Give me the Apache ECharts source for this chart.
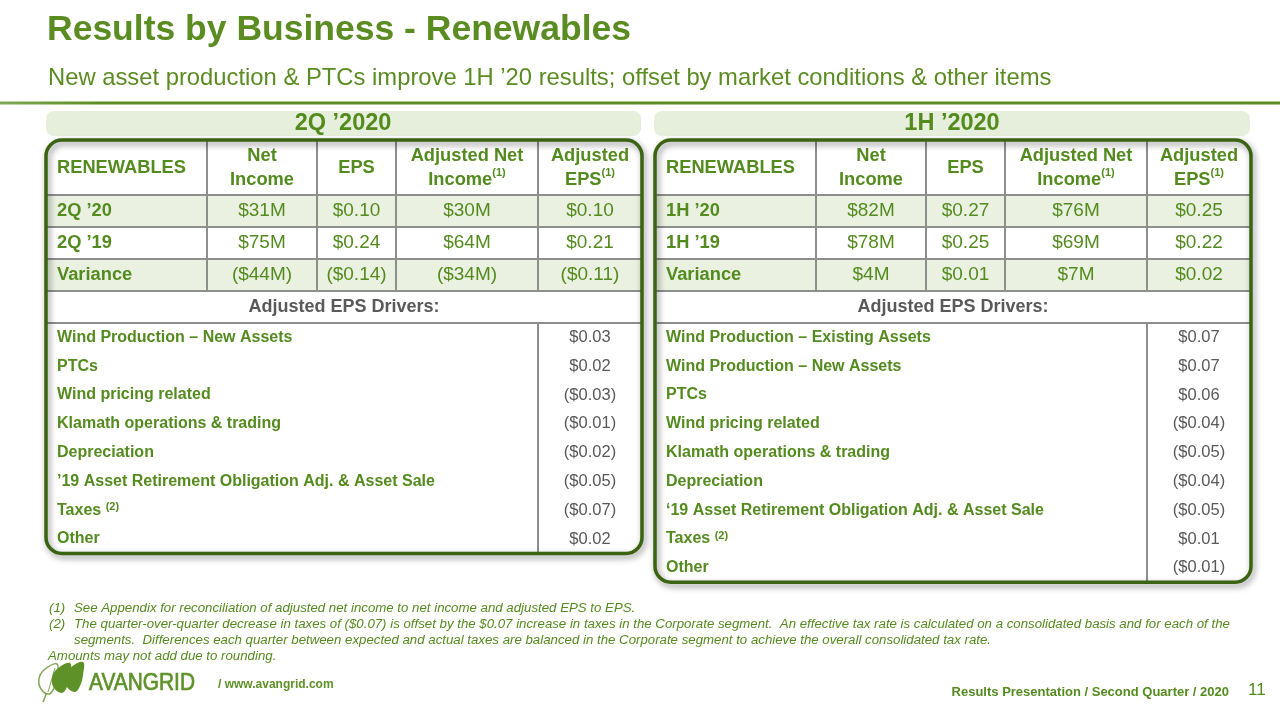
<!DOCTYPE html>
<html><head><meta charset="utf-8">
<script src="https://cdn.jsdelivr.net/npm/echarts@6/dist/echarts.min.js"></script>
<style>html,body{margin:0;padding:0;background:#fff}#chart{width:1280px;height:720px}</style>
</head><body><div id="chart"></div>
<script>
// ---------- DATA ----------
const columnHeaders = ['RENEWABLES', 'Net\nIncome', 'EPS', 'Adjusted Net\nIncome{sup|(1)}', 'Adjusted\nEPS{sup|(1)}'];

const quarterTitle = '2Q ’2020';
const quarterRowLabels = ['2Q ’20', '2Q ’19', 'Variance'];
const quarterNetIncome = [31, 75, -44];
const quarterEps = [0.10, 0.24, -0.14];
const quarterAdjNetIncome = [30, 64, -34];
const quarterAdjEps = [0.10, 0.21, -0.11];
const quarterDrivers = ['Wind Production – New Assets', 'PTCs', 'Wind pricing related', 'Klamath operations & trading', 'Depreciation', '’19 Asset Retirement Obligation Adj. & Asset Sale', 'Taxes {sup|(2)}', 'Other'];
const quarterDriverEps = [0.03, 0.02, -0.03, -0.01, -0.02, -0.05, -0.07, 0.02];

const halfTitle = '1H ’2020';
const halfRowLabels = ['1H ’20', '1H ’19', 'Variance'];
const halfNetIncome = [82, 78, 4];
const halfEps = [0.27, 0.25, 0.01];
const halfAdjNetIncome = [76, 69, 7];
const halfAdjEps = [0.25, 0.22, 0.02];
const halfDrivers = ['Wind Production – Existing Assets', 'Wind Production – New Assets', 'PTCs', 'Wind pricing related', 'Klamath operations & trading', 'Depreciation', '‘19 Asset Retirement Obligation Adj. & Asset Sale', 'Taxes {sup|(2)}', 'Other'];
const halfDriverEps = [0.07, 0.07, 0.06, -0.04, -0.05, -0.04, -0.05, 0.01, -0.01];

const driversHeading = 'Adjusted EPS Drivers:';
const footnotes = [
  ['(1)', 'See Appendix for reconciliation of adjusted net income to net income and adjusted EPS to EPS.'],
  ['(2)', 'The quarter-over-quarter decrease in taxes of ($0.07) is offset by the $0.07 increase in taxes in the Corporate segment.  An effective tax rate is calculated on a consolidated basis and for each of the'],
  ['', 'segments.  Differences each quarter between expected and actual taxes are balanced in the Corporate segment to achieve the overall consolidated tax rate.']
];
const roundingNote = 'Amounts may not add due to rounding.';

// ---------- STYLE / LAYOUT ----------
const FONT = '"Liberation Sans", Arial, sans-serif';
const GREEN = '#548B1F';
const TITLE_GREEN = '#5A8C22';
const DARK = '#3A6312';
const GRAY = '#595959';
const LINE = '#8E8E8E';
const TINT = '#EAF1E1';
const LOGO = '#5E9128';
const TABLE_W = 596, HEADER_H = 55, ROW_H = 32, DRIVER_H = 28.8;
const COL_EDGES = [0, 161, 271, 350, 492, 596];
const PAD = 11;

function money(v) { return v < 0 ? '($' + (-v) + 'M)' : '$' + v + 'M'; }
function eps(v) { return v < 0 ? '($' + (-v).toFixed(2) + ')' : '$' + v.toFixed(2); }

function buildTable(idx, left, spec) {
  const cells = [];
  const H = HEADER_H + 4 * ROW_H + spec.drivers.length * DRIVER_H;
  const dataTop = i => HEADER_H + ROW_H * i;
  const drvHeadTop = HEADER_H + ROW_H * 3;
  const drvTop = drvHeadTop + ROW_H;
  [0, 2].forEach(i => cells.push({ kind: 'fill', b: [0, dataTop(i), TABLE_W, dataTop(i) + ROW_H], color: TINT }));
  [HEADER_H, dataTop(1), dataTop(2), drvHeadTop, drvTop].forEach(y => cells.push({ kind: 'line', b: [0, y, TABLE_W, y] }));
  for (let c = 1; c < COL_EDGES.length - 1; c++) cells.push({ kind: 'line', b: [COL_EDGES[c], 0, COL_EDGES[c], drvHeadTop] });
  cells.push({ kind: 'line', b: [COL_EDGES[4], drvTop, COL_EDGES[4], H] });
  columnHeaders.forEach((t, c) => cells.push({ kind: 'text', b: [COL_EDGES[c], 0, COL_EDGES[c + 1], HEADER_H], text: t, align: c === 0 ? 'left' : 'center', bold: true, size: 18.3, lh: 24, color: GREEN }));
  const cols = [spec.netIncome.map(money), spec.eps.map(eps), spec.adjNetIncome.map(money), spec.adjEps.map(eps)];
  spec.rowLabels.forEach((lab, i) => {
    cells.push({ kind: 'text', b: [0, dataTop(i), COL_EDGES[1], dataTop(i) + ROW_H], text: lab, align: 'left', bold: true, size: 18.3, color: GREEN });
    cols.forEach((arr, c) => cells.push({ kind: 'text', b: [COL_EDGES[c + 1], dataTop(i), COL_EDGES[c + 2], dataTop(i) + ROW_H], text: arr[i], align: 'center', bold: false, size: 19, color: GREEN }));
  });
  cells.push({ kind: 'text', b: [0, drvHeadTop, TABLE_W, drvTop], text: driversHeading, align: 'center', bold: true, size: 18, color: GRAY });
  spec.drivers.forEach((d, j) => {
    const y0 = drvTop + DRIVER_H * j, y1 = y0 + DRIVER_H;
    cells.push({ kind: 'text', b: [0, y0, COL_EDGES[4], y1], text: d, align: 'left', bold: true, size: 16, color: GREEN });
    cells.push({ kind: 'text', b: [COL_EDGES[4], y0, TABLE_W, y1], text: eps(spec.driverEps[j]), align: 'center', bold: false, size: 16.5, color: GRAY });
  });
  cells.push({ kind: 'frame', b: [0, 0, TABLE_W, H] });

  const renderItem = function (params, api) {
    const c = cells[params.dataIndex];
    const p0 = api.coord([api.value(0), api.value(1)]);
    const p1 = api.coord([api.value(2), api.value(3)]);
    if (c.kind === 'fill') {
      return { type: 'rect', shape: { x: p0[0], y: p0[1], width: p1[0] - p0[0], height: p1[1] - p0[1] }, style: { fill: c.color } };
    }
    if (c.kind === 'line') {
      return { type: 'line', shape: { x1: p0[0], y1: p0[1], x2: p1[0], y2: p1[1] }, style: { stroke: LINE, lineWidth: 2 } };
    }
    if (c.kind === 'frame') {
      return { type: 'rect', shape: { x: p0[0], y: p0[1], width: p1[0] - p0[0], height: p1[1] - p0[1], r: 16 },
        style: { fill: 'none', stroke: DARK, lineWidth: 3.5, shadowBlur: 6, shadowColor: 'rgba(0,0,0,0.45)', shadowOffsetX: 2, shadowOffsetY: 3 } };
    }
    const x = c.align === 'left' ? p0[0] + PAD : (p0[0] + p1[0]) / 2;
    const y = (p0[1] + p1[1]) / 2;
    return { type: 'text', style: {
      text: c.text, x: x, y: y, align: c.align, verticalAlign: 'middle',
      fill: c.color, fontSize: c.size, fontWeight: c.bold ? 'bold' : 'normal', fontFamily: FONT, lineHeight: c.lh || (c.size + 2),
      rich: { sup: { fontSize: 11, fontWeight: 'bold', fontFamily: FONT, fill: c.color, verticalAlign: 'top', lineHeight: 16 } }
    } };
  };

  return {
    grid: { left: left, top: 140, width: TABLE_W, height: H, show: false },
    xAxis: { type: 'value', gridIndex: idx, min: 0, max: TABLE_W, show: false },
    yAxis: { type: 'value', gridIndex: idx, min: 0, max: H, inverse: true, show: false },
    series: { type: 'custom', coordinateSystem: 'cartesian2d', xAxisIndex: idx, yAxisIndex: idx, silent: true, clip: false,
      encode: { x: [0, 2], y: [1, 3] }, data: cells.map(c => c.b), renderItem: renderItem }
  };
}

const tQ = buildTable(0, 46, { rowLabels: quarterRowLabels, netIncome: quarterNetIncome, eps: quarterEps, adjNetIncome: quarterAdjNetIncome, adjEps: quarterAdjEps, drivers: quarterDrivers, driverEps: quarterDriverEps });
const tH = buildTable(1, 655, { rowLabels: halfRowLabels, netIncome: halfNetIncome, eps: halfEps, adjNetIncome: halfAdjNetIncome, adjEps: halfAdjEps, drivers: halfDrivers, driverEps: halfDriverEps });

function txt(x, y, text, size, opts) {
  opts = opts || {};
  const style = {
    text: text, fill: opts.color || GREEN, fontSize: size, fontFamily: FONT,
    fontWeight: opts.bold ? 'bold' : 'normal', fontStyle: opts.italic ? 'italic' : 'normal',
    align: opts.align || 'left', verticalAlign: 'middle' };
  if (opts.stroke) { style.stroke = opts.stroke; style.lineWidth = opts.strokeWidth; }
  return { type: 'text', x: x, y: y, scaleX: opts.scaleX || 1, silent: true, style: style };
}

const leafPts = [[0, 0], [-8, -5], [-10, -15], [-5, -24], [8, -30], [8, -17], [5, -6]];
function leaf(x, y, style) {
  return { type: 'polygon', silent: true, x: x, y: y, shape: { points: leafPts, smooth: 0.4 }, style: style };
}
const graphics = [
  txt(47, 30, 'Results by Business - Renewables', 35.5, { bold: true, color: TITLE_GREEN }),
  txt(48, 78, 'New asset production & PTCs improve 1H ’20 results; offset by market conditions & other items', 23.8, { color: TITLE_GREEN }),
  { type: 'rect', silent: true, shape: { x: 0, y: 101.5, width: 1280, height: 3 },
    style: { fill: new echarts.graphic.LinearGradient(0, 0, 1, 0, [{ offset: 0, color: '#7FAA55' }, { offset: 0.08, color: '#5A8C22' }, { offset: 1, color: '#5A8C22' }]) } },
  { type: 'rect', silent: true, shape: { x: 46, y: 111, width: 595, height: 25, r: 8 }, style: { fill: '#E6EEDC' } },
  { type: 'rect', silent: true, shape: { x: 654, y: 111, width: 596, height: 25, r: 8 }, style: { fill: '#E6EEDC' } },
  txt(343, 123.5, quarterTitle, 23.5, { bold: true, align: 'center' }),
  txt(952, 123.5, halfTitle, 23.5, { bold: true, align: 'center' }),
  txt(48, 656, roundingNote, 13.25, { italic: true }),
  txt(1229, 692, 'Results Presentation / Second Quarter / 2020', 13, { bold: true, align: 'right' }),
  txt(1248, 690, '11', 17, {}),
  { type: 'line', silent: true, shape: { x1: 47, y1: 692, x2: 43, y2: 702 }, style: { stroke: '#7FA655', lineWidth: 1.5 } },
  leaf(49, 694, { fill: '#fff', stroke: '#7FA655', lineWidth: 1.5 }),
  { type: 'line', silent: true, shape: { x1: 48, y1: 692, x2: 55, y2: 668 }, style: { stroke: '#7FA655', lineWidth: 1 } },
  leaf(62, 693, { fill: LOGO }),
  leaf(75, 692, { fill: LOGO }),
  txt(89, 683, 'AVANGRID', 24, { color: LOGO, scaleX: 0.87, stroke: LOGO, strokeWidth: 0.7 }),
  txt(218, 685, '/ www.avangrid.com', 12, { bold: true, color: LOGO })
];
footnotes.forEach((f, i) => {
  if (f[0]) graphics.push(txt(49, 608 + i * 16, f[0], 13.25, { italic: true }));
  graphics.push(txt(74, 608 + i * 16, f[1], 13.25, { italic: true }));
});

const chart = echarts.init(document.getElementById('chart'), null, { renderer: 'canvas' });
chart.setOption({
  animation: false,
  backgroundColor: '#fff',
  grid: [tQ.grid, tH.grid],
  xAxis: [tQ.xAxis, tH.xAxis],
  yAxis: [tQ.yAxis, tH.yAxis],
  series: [tQ.series, tH.series],
  graphic: graphics
});
</script>
</body></html>
